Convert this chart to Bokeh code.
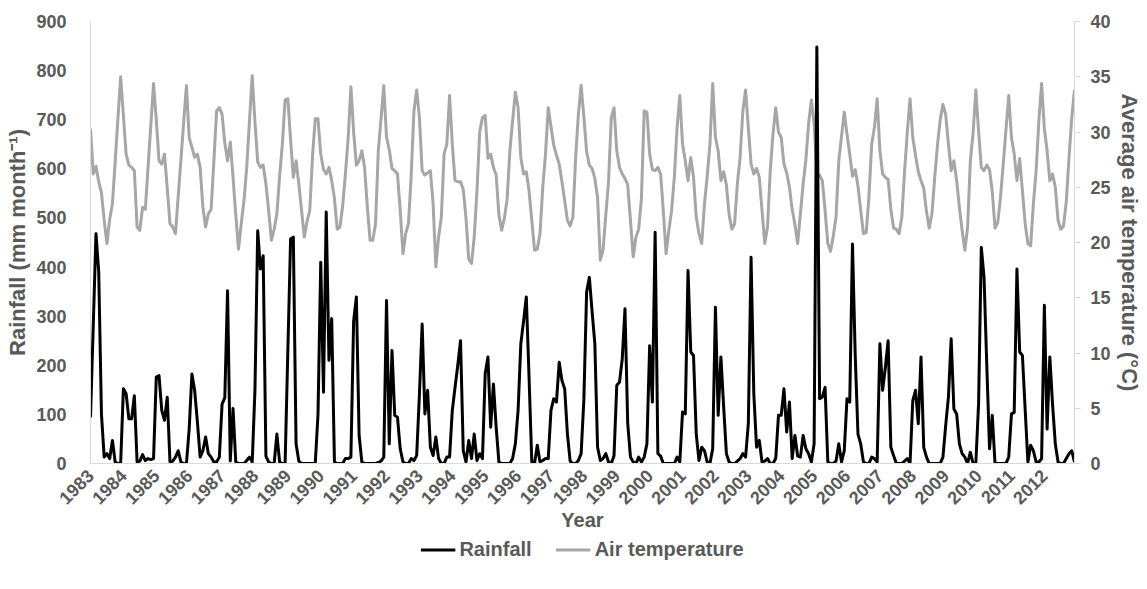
import math
from bokeh.plotting import figure
from bokeh.layouts import column
from bokeh.models import Range1d, LinearAxis, FixedTicker, Legend, LegendItem
from bokeh.embed import file_html
from bokeh.resources import INLINE

# ---------------- data (monthly, Jan 1983 - Dec 2012) ----------------
year_labels = [str(y) for y in range(1983, 2013)]

rainfall = [
    94, 280, 468, 390, 100, 13, 20, 10, 47, 3, 0, 0,          # 1983
    152, 142, 91, 91, 138, 3, 5, 18, 6, 10, 8, 10,            # 1984
    176, 179, 108, 88, 135, 3, 5, 13, 26, 3, 0, 0,            # 1985
    70, 182, 149, 85, 13, 26, 54, 20, 13, 3, 3, 13,           # 1986
    121, 134, 352, 5, 112, 3, 0, 0, 0, 6, 13, 3,              # 1987
    150, 474, 396, 423, 15, 3, 0, 0, 60, 3, 0, 0,             # 1988
    230, 457, 461, 40, 5, 0, 0, 0, 0, 0, 0, 100,              # 1989
    410, 145, 512, 210, 295, 3, 0, 0, 0, 10, 10, 13,          # 1990
    290, 339, 57, 3, 0, 0, 0, 0, 0, 2, 5, 13,                 # 1991
    332, 40, 230, 98, 94, 30, 3, 0, 0, 10, 6, 16,             # 1992
    140, 284, 101, 149, 33, 16, 54, 10, 0, 0, 13, 13,         # 1993
    108, 155, 200, 250, 26, 3, 47, 10, 60, 6, 20, 10,         # 1994
    183, 217, 74, 162, 74, 3, 0, 0, 0, 0, 10, 40,             # 1995
    108, 244, 290, 339, 176, 3, 0, 37, 3, 6, 10, 10,          # 1996
    108, 132, 125, 206, 169, 152, 60, 5, 0, 0, 6, 20,         # 1997
    130, 349, 379, 310, 244, 33, 6, 10, 20, 3, 0, 16,         # 1998
    159, 166, 213, 315, 81, 13, 3, 0, 13, 3, 13, 40,          # 1999
    240, 125, 471, 20, 15, 0, 0, 0, 0, 0, 13, 3,              # 2000
    105, 101, 393, 227, 220, 60, 6, 33, 26, 3, 0, 30,         # 2001
    318, 98, 217, 115, 20, 3, 0, 0, 5, 10, 20, 13,            # 2002
    81, 420, 142, 33, 47, 3, 5, 10, 0, 0, 10, 98,             # 2003
    98, 152, 64, 125, 10, 57, 15, 13, 57, 30, 20, 3,          # 2004
    40, 848, 132, 135, 155, 3, 0, 0, 5, 40, 3, 26,            # 2005
    132, 125, 447, 220, 60, 40, 3, 0, 0, 13, 10, 3,           # 2006
    244, 149, 196, 250, 33, 16, 0, 0, 0, 5, 10, 0,            # 2007
    128, 149, 81, 217, 33, 13, 0, 0, 0, 0, 0, 13,             # 2008
    77, 135, 254, 111, 101, 40, 20, 13, 0, 23, 0, 0,          # 2009
    121, 440, 379, 200, 30, 98, 0, 0, 0, 0, 0, 13,            # 2010
    101, 104, 396, 227, 220, 110, 3, 37, 26, 3, 3, 10,        # 2011
    322, 70, 217, 120, 40, 3, 0, 0, 10, 20, 26, 3,            # 2012
]

air_temperature = [
    30.3, 26.2, 26.9, 25.5, 24.5, 22.0, 19.9, 22.1, 23.5, 27.3, 31.2, 35.0,  # 1983
    31.5, 28.0, 27.0, 26.8, 26.5, 21.4, 21.1, 23.2, 23.0, 26.8, 30.6, 34.4,  # 1984
    31.1, 27.4, 27.1, 28.0, 24.9, 21.7, 21.4, 20.8, 24.2, 27.5, 30.9, 34.2,  # 1985
    29.5, 28.6, 27.7, 28.0, 26.8, 23.2, 21.4, 22.6, 23.0, 27.3, 31.9, 32.2,  # 1986
    31.6, 29.0, 27.4, 29.1, 25.9, 22.5, 19.4, 21.7, 23.8, 26.8, 31.0, 35.1,  # 1987
    30.9, 27.3, 26.8, 27.0, 25.3, 22.9, 20.2, 21.2, 22.6, 26.0, 28.9, 32.9,  # 1988
    33.0, 29.3, 25.9, 27.4, 25.3, 22.9, 20.5, 21.9, 22.9, 27.8, 31.2, 31.2,  # 1989
    28.0, 26.6, 26.2, 26.8, 25.6, 24.0, 21.2, 21.4, 23.3, 26.2, 29.4, 34.1,  # 1990
    30.0, 27.0, 27.4, 28.3, 26.8, 23.2, 20.2, 20.2, 21.7, 28.3, 31.2, 34.2,  # 1991
    29.5, 28.4, 26.7, 26.5, 26.2, 22.9, 19.0, 20.8, 21.7, 26.0, 31.9, 33.8,  # 1992
    31.3, 26.5, 26.1, 26.3, 26.5, 23.5, 17.8, 20.5, 22.3, 28.0, 28.9, 33.3,  # 1993
    28.9, 25.6, 25.5, 25.5, 24.8, 22.2, 18.5, 18.1, 20.5, 24.7, 30.0, 31.3,  # 1994
    31.5, 27.6, 28.0, 26.8, 26.1, 22.5, 21.1, 22.2, 23.9, 28.3, 31.0, 33.6,  # 1995
    32.2, 27.7, 26.2, 26.4, 24.7, 22.0, 19.3, 19.4, 20.8, 25.0, 28.0, 32.2,  # 1996
    30.5, 28.8, 27.9, 27.1, 25.5, 23.8, 22.0, 21.5, 22.3, 27.7, 31.6, 34.2,  # 1997
    31.4, 28.2, 27.0, 26.7, 25.8, 24.1, 18.4, 19.3, 22.5, 25.5, 31.3, 32.2,  # 1998
    28.3, 26.8, 26.2, 25.8, 25.2, 22.0, 18.7, 20.5, 21.2, 24.0, 31.9, 31.8,  # 1999
    28.0, 26.6, 26.5, 26.8, 26.2, 22.8, 19.0, 21.1, 22.9, 25.9, 30.4, 33.3,  # 2000
    28.9, 27.4, 25.6, 27.7, 25.9, 22.3, 20.8, 19.9, 23.5, 26.0, 28.9, 34.4,  # 2001
    29.5, 28.3, 25.6, 26.4, 25.2, 22.5, 21.2, 21.7, 25.3, 27.7, 31.9, 33.8,  # 2002
    30.4, 27.1, 26.2, 26.7, 25.9, 22.9, 19.9, 21.4, 26.5, 29.8, 32.2, 30.0,  # 2003
    29.5, 27.1, 26.3, 25.0, 23.0, 21.6, 19.9, 22.6, 25.3, 27.5, 30.8, 32.9,  # 2004
    30.7, 26.2, 26.1, 25.6, 22.9, 19.9, 19.2, 20.6, 22.3, 27.4, 29.6, 31.8,  # 2005
    29.8, 28.0, 26.0, 26.6, 25.1, 22.9, 20.8, 20.9, 24.1, 28.9, 30.4, 33.0,  # 2006
    28.3, 26.2, 25.9, 25.7, 23.0, 21.3, 21.2, 20.8, 22.3, 26.4, 30.0, 33.0,  # 2007
    29.5, 27.9, 26.4, 25.6, 24.9, 22.8, 21.3, 22.6, 25.9, 28.8, 31.1, 32.5,  # 2008
    31.6, 28.9, 26.5, 27.4, 25.6, 23.2, 21.1, 19.3, 21.4, 27.4, 29.9, 33.8,  # 2009
    30.1, 26.8, 26.5, 27.0, 26.6, 24.6, 21.3, 21.8, 24.1, 27.1, 30.2, 33.3,  # 2010
    29.5, 28.0, 25.6, 27.6, 24.7, 21.7, 19.9, 19.7, 23.5, 26.5, 31.0, 34.4,  # 2011
    30.3, 28.3, 25.6, 26.2, 25.0, 22.0, 21.2, 21.5, 23.7, 27.7, 31.3, 33.8,  # 2012
]

month_index = list(range(len(rainfall)))
year_ticks = [12 * k for k in range(len(year_labels))]

# ---------------- styling ----------------
FONT = "Liberation Sans"
TXT = "#595959"
AXIS = "#D9D9D9"
RAIN_C = "black"
TEMP_C = "#A6A6A6"

p = figure(width=1147, height=535, output_backend="svg", toolbar_location=None,
           x_range=Range1d(0, len(rainfall) - 1), y_range=Range1d(0, 900),
           min_border_left=90, min_border_right=73, min_border_top=21,
           min_border_bottom=72)
p.extra_y_ranges = {"temp": Range1d(0, 40)}
p.outline_line_color = None
p.xgrid.visible = False
p.ygrid.visible = False
p.background_fill_color = "white"
p.border_fill_color = "white"

p.line(month_index, air_temperature, y_range_name="temp",
       line_color=TEMP_C, line_width=3, line_join="round")
p.line(month_index, rainfall, line_color=RAIN_C, line_width=3, line_join="round")

# x axis
xa = p.xaxis[0]
xa.ticker = FixedTicker(ticks=year_ticks)
xa.major_label_overrides = {t: lab for t, lab in zip(year_ticks, year_labels)}
xa.major_label_orientation = math.pi / 4
xa.axis_label = "Year"
xa.axis_line_color = AXIS
xa.major_tick_line_color = None
xa.minor_tick_line_color = None
xa.major_label_standoff = 3

# left axis
ya = p.yaxis[0]
ya.ticker = FixedTicker(ticks=list(range(0, 901, 100)))
ya.axis_label = "Rainfall (mm month\u207b\u00b9)"
ya.axis_line_color = AXIS
ya.major_tick_line_color = None
ya.minor_tick_line_color = None
ya.major_label_standoff = 18

# right axis
ra = LinearAxis(y_range_name="temp", ticker=FixedTicker(ticks=list(range(0, 41, 5))),
                axis_label="Average air temperature (\u00b0C)")
ra.axis_line_color = AXIS
ra.major_tick_line_color = AXIS
ra.major_tick_out = 6
ra.major_tick_in = 0
ra.minor_tick_line_color = None
ra.major_label_standoff = 10
p.add_layout(ra, "right")

for ax in (xa, ya, ra):
    ax.major_label_text_font = FONT
    ax.major_label_text_font_style = "bold"
    ax.major_label_text_font_size = "18px"
    ax.major_label_text_color = TXT
    ax.axis_label_text_font = FONT
    ax.axis_label_text_font_style = "bold"
    ax.axis_label_text_font_size = "22px"
    ax.axis_label_text_color = TXT
    ax.axis_label_standoff = 3
xa.axis_label_text_font_size = "20px"
xa.axis_label_standoff = -4

# ---------------- legend strip below the chart ----------------
pl = figure(width=1147, height=28, output_backend="svg", toolbar_location=None,
            x_axis_location=None, y_axis_location=None, min_border=0,
            x_range=Range1d(0, 1), y_range=Range1d(0, 1))
pl.outline_line_color = None
pl.grid.visible = False
pl.background_fill_color = "white"
pl.border_fill_color = "white"
# legend swatches only (their own points sit outside the visible range)
lr = pl.line([5, 6], [5, 5], line_color=RAIN_C, line_width=3)
lt = pl.line([5, 6], [5, 5], line_color=TEMP_C, line_width=3)
legend = Legend(items=[LegendItem(label="Rainfall", renderers=[lr]),
                       LegendItem(label="Air temperature", renderers=[lt])],
                orientation="horizontal", location="center",
                label_text_font=FONT, label_text_font_style="bold",
                label_text_font_size="20px", label_text_color=TXT,
                glyph_width=35, glyph_height=20, label_height=20, spacing=24,
                label_standoff=4, border_line_color=None,
                background_fill_alpha=0, margin=0, padding=2)
pl.add_layout(legend, "center")

open("out.html", "w").write(file_html(column(p, pl, spacing=0), INLINE))
